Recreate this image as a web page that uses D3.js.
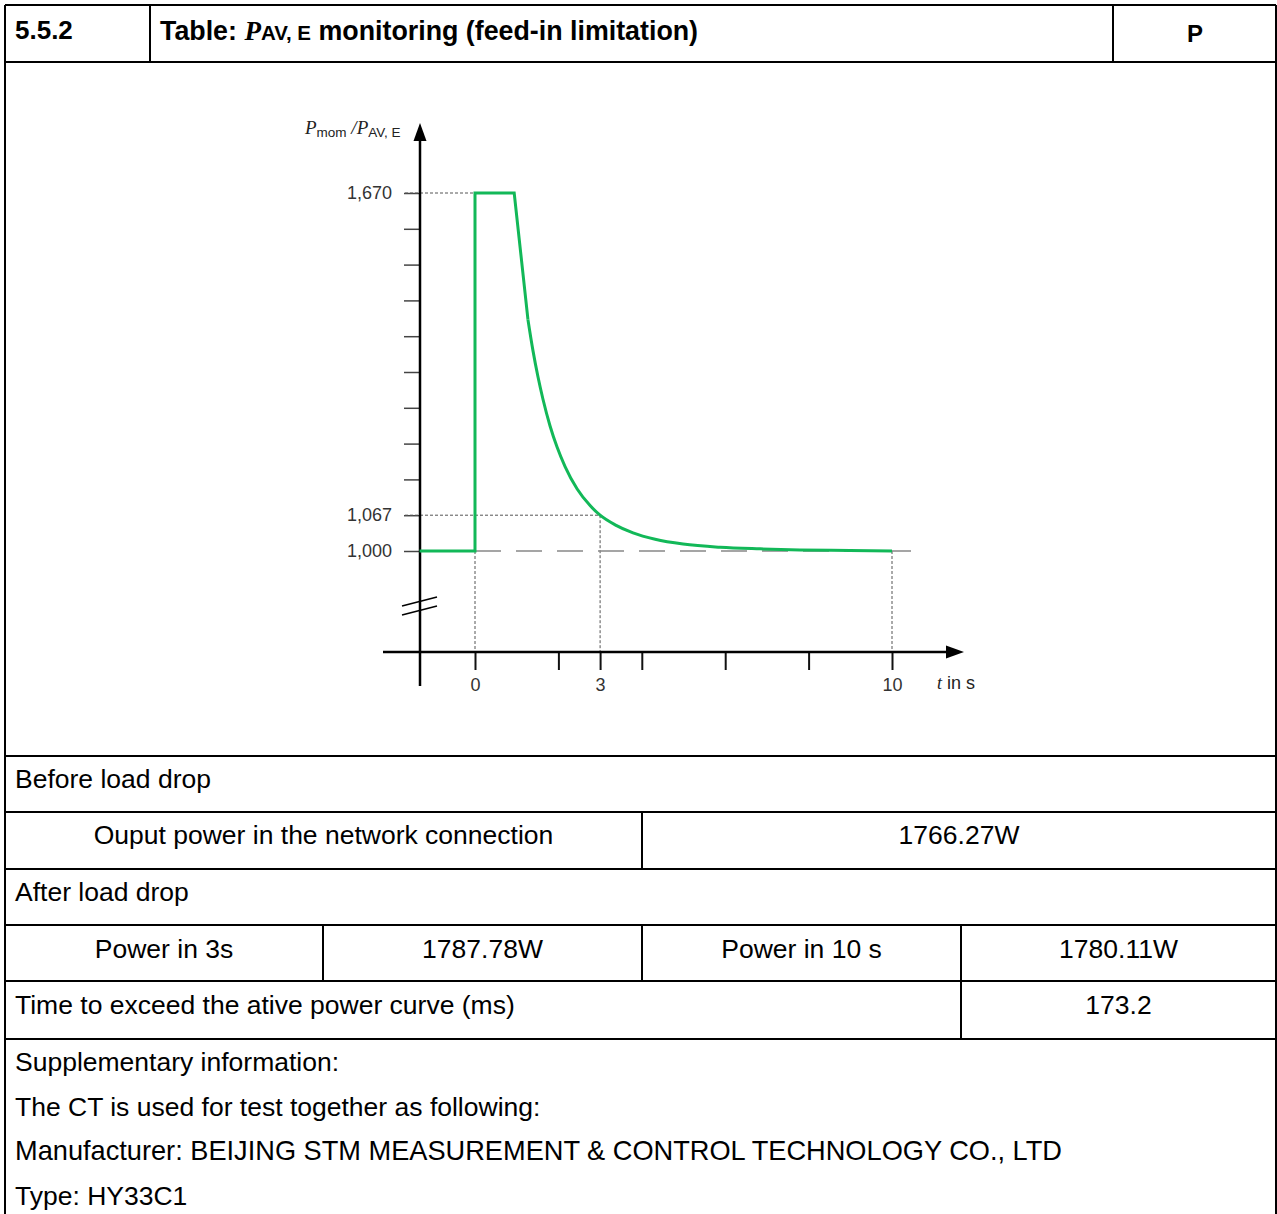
<!DOCTYPE html>
<html>
<head>
<meta charset="utf-8">
<script src="https://cdn.jsdelivr.net/npm/d3@7"></script>
<style>
  html, body { margin: 0; padding: 0; background: #fff; }
  svg { display: block; }
  text { font-family: "Liberation Sans", Arial, sans-serif; }
</style>
</head>
<body>
<svg id="page" width="1277" height="1214"></svg>
<script>
// Power ratio P_mom / P_AV,E over time after a load drop
// step before the decay: constant 1.000, jump at t = 0, plateau at 1.670, then a straight fall
const stepTime  = [-1.33, 0, 0, 0.94, 1.27];
const stepRatio = [1.000, 1.000, 1.670, 1.670, 1.433];
// smooth decay back towards 1.000
const decayTime  = [1.27, 1.39, 1.51, 1.63, 1.80, 1.97, 2.16, 2.45, 2.76, 3.00, 3.36, 3.79, 4.32, 4.99, 5.88, 6.84, 7.79, 8.99, 10.00];
const decayRatio = [1.433, 1.375, 1.326, 1.284, 1.234, 1.194, 1.158, 1.116, 1.085, 1.067, 1.049, 1.034, 1.022, 1.013, 1.007, 1.004, 1.002, 1.001, 1.000];

const yTickValues = [1.000, 1.067, 1.134, 1.201, 1.268, 1.335, 1.402, 1.469, 1.536, 1.603, 1.670];
const yTickLabels = { "1": "1,000", "1.067": "1,067", "1.67": "1,670" };
const xTickValues = [0, 2, 3, 4, 6, 8, 10];
const xTickLabels = { "0": "0", "3": "3", "10": "10" };

// marker lines: reference levels and times
const refLevels = [1.670, 1.067];
const refLevelTimes = [0, 3];
const refTimes = [0, 3, 10];
const refTimeRatios = [1.000, 1.067, 1.000];

// table texts
const headerCells = ["5.5.2", "P"];
const beforeRow = ["Ouput power in the network connection", "1766.27W"];
const afterRow = ["Power in 3s", "1787.78W", "Power in 10 s", "1780.11W"];
const timeRow = ["Time to exceed the ative power curve (ms)", "173.2"];
const supplementLines = [
  "Supplementary information:",
  "The CT is used for test together as following:",
  "Manufacturer: BEIJING STM MEASUREMENT & CONTROL TECHNOLOGY CO., LTD",
  "Type: HY33C1"
];

const svg = d3.select("#page");
svg.append("rect").attr("width", 1277).attr("height", 1214).attr("fill", "#fff");

// ---------- table grid ----------
const L = 5, R = 1276;
const grid = svg.append("g").attr("stroke", "#000").attr("stroke-width", 2).attr("fill", "none");
const hLines = [5, 62, 756, 812, 869, 925, 981, 1039];
hLines.forEach(y => grid.append("line").attr("x1", L).attr("x2", R).attr("y1", y).attr("y2", y));
grid.append("line").attr("x1", L).attr("x2", L).attr("y1", 5).attr("y2", 1214);
grid.append("line").attr("x1", R).attr("x2", R).attr("y1", 5).attr("y2", 1214);
[[150, 5, 62], [1113, 5, 62], [642, 812, 869], [323, 925, 981], [642, 925, 981], [961, 925, 981], [961, 981, 1039]]
  .forEach(([x, y1, y2]) => grid.append("line").attr("x1", x).attr("x2", x).attr("y1", y1).attr("y2", y2));

// header
svg.append("text").attr("x", 15).attr("y", 39).attr("font-size", 26).attr("font-weight", "bold").text(headerCells[0]);
const title = svg.append("text").attr("x", 160).attr("y", 40).attr("font-size", 26.8).attr("font-weight", "bold");
title.append("tspan").text("Table: ");
title.append("tspan").attr("font-family", "'Liberation Serif', 'Times New Roman', serif").attr("font-style", "italic").attr("font-size", 27).text("P");
title.append("tspan").attr("font-size", 20.5).text("AV, E");
title.append("tspan").text(" monitoring (feed-in limitation)");
svg.append("text").attr("x", 1195).attr("y", 42).attr("font-size", 24).attr("font-weight", "bold").attr("text-anchor", "middle").text(headerCells[1]);

// body rows
const body = svg.append("g").attr("font-size", 26.5).attr("fill", "#000");
body.append("text").attr("x", 15).attr("y", 788).text("Before load drop");
body.append("text").attr("x", 323.5).attr("y", 844).attr("text-anchor", "middle").text(beforeRow[0]);
body.append("text").attr("x", 959).attr("y", 844).attr("text-anchor", "middle").text(beforeRow[1]);
body.append("text").attr("x", 15).attr("y", 901).text("After load drop");
[164, 482.5, 801.5, 1118.5].forEach((cx, i) =>
  body.append("text").attr("x", cx).attr("y", 958).attr("text-anchor", "middle").text(afterRow[i]));
body.append("text").attr("x", 15).attr("y", 1014).text(timeRow[0]);
body.append("text").attr("x", 1118.5).attr("y", 1014).attr("text-anchor", "middle").text(timeRow[1]);
supplementLines.forEach((s, i) =>
  body.append("text").attr("x", 15).attr("y", 1071 + i * 44.7)
    .attr("font-size", i === 2 ? 27.2 : 26.5).text(s));

// ---------- chart ----------
const x = d3.scaleLinear().domain([0, 10]).range([475, 892]);
const y = d3.scaleLinear().domain([1, 1.67]).range([551, 193]);
const chart = svg.append("g");

// y ticks and labels
const yAxis = d3.axisLeft(y).tickValues(yTickValues).tickSize(16).tickPadding(12)
  .tickFormat(d => yTickLabels[String(+d.toFixed(3))] || "");
const gy = chart.append("g").attr("transform", "translate(420,0)").call(yAxis);
gy.select(".domain").remove();
gy.selectAll(".tick line").attr("stroke", "#444").attr("stroke-width", 1.5);
gy.selectAll(".tick text").attr("font-size", 18).attr("fill", "#333")
  .attr("font-family", "'Liberation Sans', Arial, sans-serif");

// x ticks and labels
const xAxis = d3.axisBottom(x).tickValues(xTickValues).tickSize(18).tickPadding(8)
  .tickFormat(d => xTickLabels[String(d)] || "");
const gx = chart.append("g").attr("transform", "translate(0,652)").call(xAxis);
gx.select(".domain").remove();
gx.selectAll(".tick line").attr("stroke", "#111").attr("stroke-width", 2);
gx.selectAll(".tick text").attr("font-size", 18).attr("fill", "#333")
  .attr("font-family", "'Liberation Sans', Arial, sans-serif");

// dotted reference lines
const dotted = chart.append("g").attr("stroke", "#555").attr("stroke-width", 1).attr("stroke-dasharray", "3,2");
refLevels.forEach((v, i) => dotted.append("line")
  .attr("x1", 405).attr("x2", x(refLevelTimes[i])).attr("y1", y(v)).attr("y2", y(v)));
refTimes.forEach((t, i) => dotted.append("line")
  .attr("x1", x(t)).attr("x2", x(t)).attr("y1", y(refTimeRatios[i])).attr("y2", 652));

// long-dash baseline at 1.000
chart.append("line").attr("x1", x(0)).attr("x2", 923).attr("y1", y(1)).attr("y2", y(1))
  .attr("stroke", "#888").attr("stroke-width", 1.5).attr("stroke-dasharray", "26,15");

// axes with arrows
chart.append("line").attr("x1", 420).attr("x2", 420).attr("y1", 686).attr("y2", 136)
  .attr("stroke", "#000").attr("stroke-width", 2.5);
chart.append("path").attr("d", "M420,123 L413.5,141 L426.5,141 Z").attr("fill", "#000");
chart.append("line").attr("x1", 383).attr("x2", 950).attr("y1", 652).attr("y2", 652)
  .attr("stroke", "#000").attr("stroke-width", 2.5);
chart.append("path").attr("d", "M964,652 L946,645.5 L946,658.5 Z").attr("fill", "#000");

// axis break mark
const brk = chart.append("g").attr("stroke", "#000").attr("stroke-width", 1.5);
brk.append("line").attr("x1", 402).attr("y1", 606).attr("x2", 437).attr("y2", 597);
brk.append("line").attr("x1", 402).attr("y1", 615).attr("x2", 437).attr("y2", 606);

// power curve
const green = "#12b858";
const stepLine = d3.line().x((d, i) => x(stepTime[i])).y((d, i) => y(stepRatio[i]));
chart.append("path").datum(stepTime).attr("d", stepLine)
  .attr("fill", "none").attr("stroke", green).attr("stroke-width", 3).attr("stroke-linejoin", "miter");
const decayLine = d3.line().curve(d3.curveMonotoneX)
  .x((d, i) => x(decayTime[i])).y((d, i) => y(decayRatio[i]));
chart.append("path").datum(decayTime).attr("d", decayLine)
  .attr("fill", "none").attr("stroke", green).attr("stroke-width", 3).attr("stroke-linejoin", "round");

// axis titles
const serif = "'Liberation Serif', 'Times New Roman', serif";
const yt = chart.append("text").attr("x", 305).attr("y", 134).attr("fill", "#222");
yt.append("tspan").attr("font-family", serif).attr("font-style", "italic").attr("font-size", 19).text("P");
yt.append("tspan").attr("font-size", 13.5).attr("dy", 3).text("mom");
yt.append("tspan").attr("font-family", serif).attr("font-style", "italic").attr("font-size", 19).attr("dy", -3).text(" /P");
yt.append("tspan").attr("font-size", 13.5).attr("dy", 3).text("AV, E");

const xt = chart.append("text").attr("x", 937).attr("y", 689).attr("fill", "#222").attr("font-size", 18);
xt.append("tspan").attr("font-family", serif).attr("font-style", "italic").text("t");
xt.append("tspan").text(" in s");
</script>
</body>
</html>
